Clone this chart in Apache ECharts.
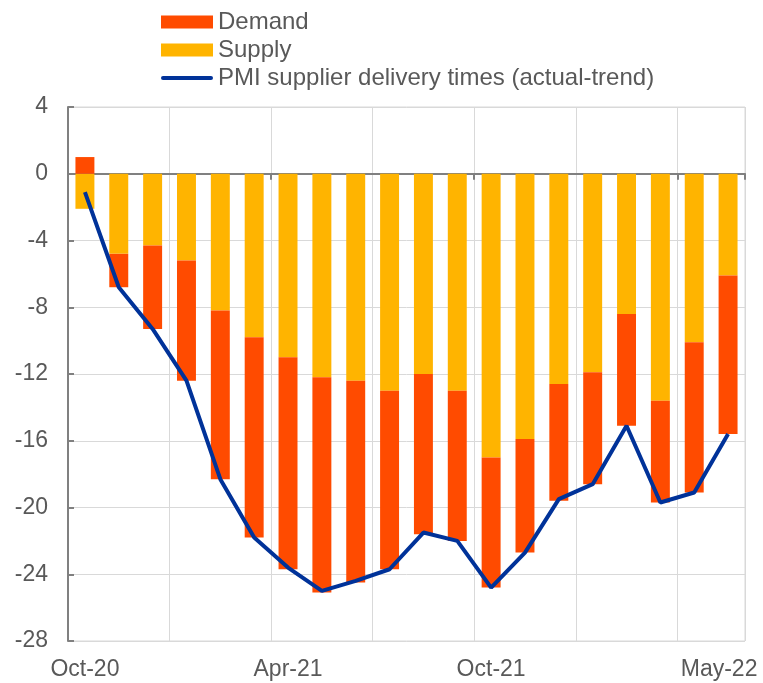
<!DOCTYPE html>
<html>
<head>
<meta charset="utf-8">
<script src="https://cdn.jsdelivr.net/npm/echarts@6/dist/echarts.min.js"></script>
<style>
  html, body { margin: 0; padding: 0; background: #fff; }
  #chart { width: 763px; height: 683px; }
</style>
</head>
<body>
<div id="chart"></div>
<script>
const months = ['Oct-20', 'Nov-20', 'Dec-20', 'Jan-21', 'Feb-21', 'Mar-21', 'Apr-21', 'May-21', 'Jun-21', 'Jul-21',
  'Aug-21', 'Sep-21', 'Oct-21', 'Nov-21', 'Dec-21', 'Jan-22', 'Feb-22', 'Mar-22', 'Apr-22', 'May-22']
const demand = [1.0, -2.0, -5.0, -7.2, -10.1, -12.0, -12.7, -12.9, -12.1, -10.7,
  -9.6, -9.0, -7.8, -6.8, -7.0, -6.7, -6.7, -6.1, -9.0, -9.5]
const supply = [-2.1, -4.8, -4.3, -5.2, -8.2, -9.8, -11.0, -12.2, -12.4, -13.0,
  -12.0, -13.0, -17.0, -15.9, -12.6, -11.9, -8.4, -13.6, -10.1, -6.1]
const pmi = [-1.1, -6.8, -9.3, -12.4, -18.3, -21.8, -23.6, -25.0, -24.4, -23.7,
  -21.5, -22.0, -24.8, -22.7, -19.5, -18.6, -15.1, -19.7, -19.1, -15.6]
const labelIdx = [0, 6, 12, 19]

const font = '"Liberation Sans", Arial, sans-serif'
const textColor = '#595959'

const chart = echarts.init(document.getElementById('chart'))
chart.setOption({
  animation: false,
  textStyle: { fontFamily: font },
  legend: {
    orient: 'vertical',
    left: 156,
    top: 5,
    itemWidth: 52,
    itemHeight: 13,
    itemGap: 4,
    textStyle: { fontSize: 24, color: textColor, fontFamily: font },
    data: [
      { name: 'Demand', icon: 'rect' },
      { name: 'Supply', icon: 'rect' },
      {
        name: 'PMI supplier delivery times (actual-trend)',
        icon: 'path://M2,0 L50,0 A2,2 0 0 1 50,4 L2,4 A2,2 0 0 1 2,0 Z',
        itemStyle: { color: '#003299' }
      }
    ]
  },
  grid: {
    left: 68, right: 18, top: 107, bottom: 42,
    show: true, borderColor: '#d9d9d9', borderWidth: 1
  },
  xAxis: [
    {
      type: 'category',
      data: months,
      position: 'bottom',
      axisLine: { show: false, onZero: false },
      axisTick: { show: false },
      splitLine: { show: true, interval: 2, lineStyle: { color: '#d9d9d9', width: 1 } },
      axisLabel: {
        interval: (i) => labelIdx.includes(i),
        fontSize: 23,
        color: textColor,
        margin: 17,
        formatter: (v, i) => i === 19 ? '{a|' + v + '}' : v,
        rich: { a: { fontSize: 23, color: textColor, padding: [0, 18, 0, 0] } }
      }
    },
    {
      type: 'category',
      data: months,
      position: 'bottom',
      axisLine: { show: true, onZero: true, lineStyle: { color: '#808080', width: 2 } },
      axisTick: { show: true, interval: 5, length: 6, lineStyle: { color: '#808080', width: 2 } },
      axisLabel: { show: false },
      splitLine: { show: false }
    }
  ],
  yAxis: {
    type: 'value',
    min: -28,
    max: 4,
    interval: 4,
    axisLine: { show: true, lineStyle: { color: '#808080', width: 2 } },
    axisTick: { show: true, inside: true, length: 6, lineStyle: { color: '#808080', width: 2 } },
    splitLine: { lineStyle: { color: '#d9d9d9', width: 1 } },
    axisLabel: { fontSize: 23, color: textColor, margin: 20 }
  },
  series: [
    {
      name: 'Supply',
      type: 'bar',
      stack: 'total',
      barWidth: '56%',
      data: supply,
      itemStyle: { color: '#FFB400' }
    },
    {
      name: 'Demand',
      type: 'bar',
      stack: 'total',
      data: demand,
      itemStyle: { color: '#FF4B00' }
    },
    {
      name: 'PMI supplier delivery times (actual-trend)',
      type: 'line',
      data: pmi,
      symbol: 'none',
      z: 5,
      lineStyle: { color: '#003299', width: 4 },
      itemStyle: { color: '#003299' }
    }
  ]
})
</script>
</body>
</html>
